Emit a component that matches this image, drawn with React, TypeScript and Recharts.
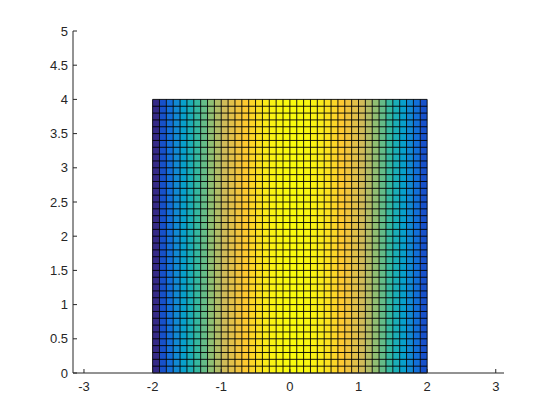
import { ComposedChart, XAxis, YAxis, ReferenceArea, ReferenceLine } from 'recharts'

// surface seen from above: column edges, row edges, value of each column (colour)
const xEdges = [
  -2, -1.9, -1.8, -1.7, -1.6, -1.5, -1.4, -1.3, -1.2, -1.1, -1, -0.9, -0.8, -0.7, -0.6, -0.5, -0.4, -0.3, -0.2, -0.1,
  0, 0.1, 0.2, 0.3, 0.4, 0.5, 0.6, 0.7, 0.8, 0.9, 1, 1.1, 1.2, 1.3, 1.4, 1.5, 1.6, 1.7, 1.8, 1.9, 2,
]
const yEdges = [
  0, 0.1, 0.2, 0.3, 0.4, 0.5, 0.6, 0.7, 0.8, 0.9, 1, 1.1, 1.2, 1.3, 1.4, 1.5, 1.6, 1.7, 1.8, 1.9,
  2, 2.1, 2.2, 2.3, 2.4, 2.5, 2.6, 2.7, 2.8, 2.9, 3, 3.1, 3.2, 3.3, 3.4, 3.5, 3.6, 3.7, 3.8, 3.9, 4,
]
const zValues = [
  0, 0.39, 0.76, 1.11, 1.44, 1.75, 2.04, 2.31, 2.56, 2.79, 3.0, 3.19, 3.36, 3.51, 3.64, 3.75, 3.84, 3.91, 3.96, 3.99,
  4.0, 3.99, 3.96, 3.91, 3.84, 3.75, 3.64, 3.51, 3.36, 3.19, 3.0, 2.79, 2.56, 2.31, 2.04, 1.75, 1.44, 1.11, 0.76, 0.39,
]
const xTicks = [-3, -2, -1, 0, 1, 2, 3]
const yTicks = [0, 0.5, 1, 1.5, 2, 2.5, 3, 3.5, 4, 4.5, 5]

const parula = [
  [53, 42, 135], [15, 92, 221], [20, 129, 214], [6, 164, 202], [46, 183, 164],
  [135, 191, 119], [209, 187, 89], [254, 200, 50], [249, 251, 14],
]

function colorOf(z: number, lo: number, hi: number) {
  const t = Math.max(0, Math.min(1, (z - lo) / (hi - lo))) * (parula.length - 1)
  const i = Math.min(parula.length - 2, Math.floor(t))
  const f = t - i
  const c = parula[i].map((v, k) => Math.round(v + (parula[i + 1][k] - v) * f))
  return `rgb(${c[0]},${c[1]},${c[2]})`
}

const axisColor = '#262626'
const tickStyle = { fill: axisColor, fontSize: 13, fontFamily: 'Liberation Sans, Arial, sans-serif' }

export default function App() {
  const zMin = Math.min(...zValues)
  const zMax = Math.max(...zValues)
  const x0 = xEdges[0]
  const x1 = xEdges[xEdges.length - 1]
  const y0 = yEdges[0]
  const y1 = yEdges[yEdges.length - 1]

  return (
    <div style={{ position: 'absolute', left: 0, top: 0, width: 560, height: 420, background: '#fff' }}>
      <ComposedChart width={560} height={420} data={[]} margin={{ top: 31, right: 56, left: 33, bottom: 17 }}>
        <XAxis
          type="number"
          dataKey="x"
          domain={[-3.16, 3.12]}
          allowDataOverflow
          ticks={xTicks}
          tickFormatter={v => String(v)}
          height={30}
          tick={tickStyle}
          stroke={axisColor}
          tickSize={-4}
          tickMargin={13}
        />
        <YAxis
          type="number"
          dataKey="y"
          domain={[0, 5]}
          allowDataOverflow
          ticks={yTicks}
          tickFormatter={v => String(v)}
          width={40}
          tick={tickStyle}
          stroke={axisColor}
          tickSize={-4}
          tickMargin={9}
        />
        {zValues.map((z, i) => (
          <ReferenceArea
            key={'c' + i}
            x1={xEdges[i]}
            x2={xEdges[i + 1]}
            y1={y0}
            y2={y1}
            fill={colorOf(z, zMin, zMax)}
            fillOpacity={1}
            stroke="none"
            ifOverflow="visible"
          />
        ))}
        {xEdges.map(x => (
          <ReferenceLine
            key={'vx' + x}
            segment={[{ x, y: y0 }, { x, y: y1 }]}
            stroke="#000"
            strokeWidth={0.9}
            ifOverflow="visible"
          />
        ))}
        {yEdges.map(y => (
          <ReferenceLine
            key={'hy' + y}
            segment={[{ x: x0, y }, { x: x1, y }]}
            stroke="#000"
            strokeWidth={0.9}
            ifOverflow="visible"
          />
        ))}
      </ComposedChart>
    </div>
  )
}
